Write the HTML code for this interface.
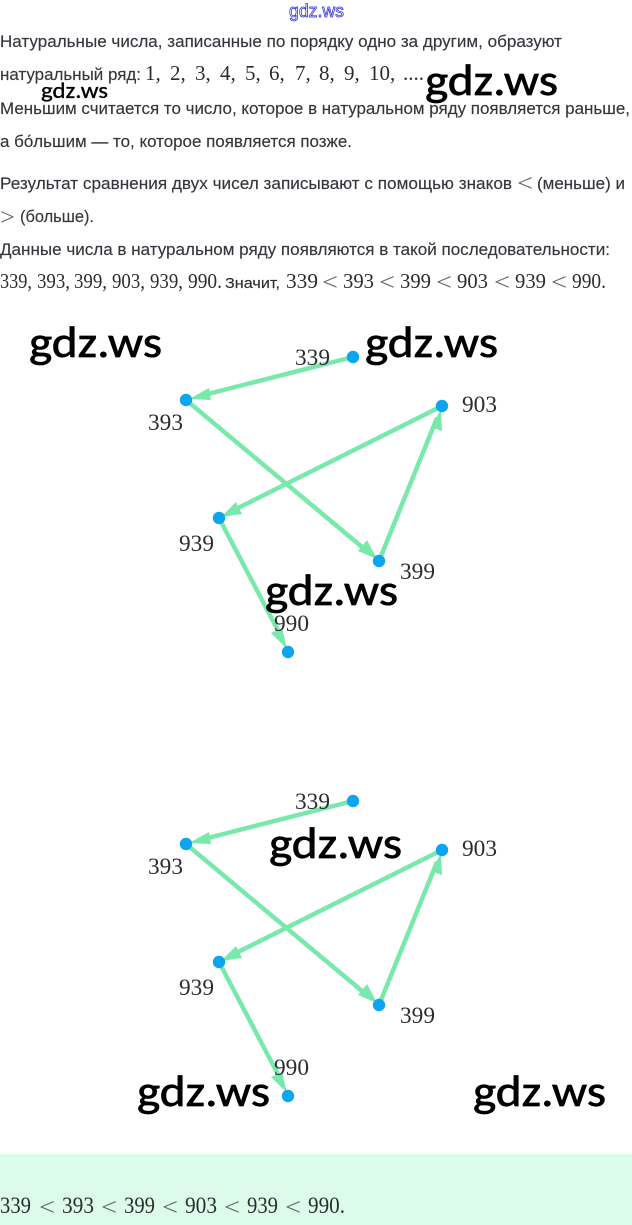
<!DOCTYPE html>
<html><head><meta charset="utf-8"><style>
html,body{margin:0;padding:0;background:#fff;width:632px;height:1225px;overflow:hidden}
svg{display:block}
.t{font-family:"Liberation Sans","Noto Sans CJK SC",sans-serif;font-size:16.5px;fill:#33373c;stroke:#33373c;stroke-width:.15}
.s{font-family:"Liberation Sans","Noto Sans CJK SC",sans-serif;font-size:15px;fill:#2c2f33;stroke:#2c2f33;stroke-width:.15}
.m{font-family:"Liberation Serif",serif;font-size:21px;fill:#2a2d30}
.n{font-family:"Liberation Serif",serif;font-size:23px;fill:#2a2d30}
.b{font-family:"Liberation Serif",serif;font-size:23px;fill:#2a2d30}
.l{font-family:"Liberation Serif",serif;font-size:24px;fill:#666}
.w{font-family:Carlito,"Liberation Sans",sans-serif;font-size:44px;fill:#000;stroke:#000;stroke-width:.7}
.w2{font-family:Carlito,"Liberation Sans",sans-serif;font-size:23px;fill:#000;stroke:#000;stroke-width:.35}
.g{stroke:#78e8ab;stroke-width:4.5;fill:none}
.h{fill:#78e8ab}
.d{fill:#0ea5f0}
</style></head><body>
<svg width="632" height="1225" viewBox="0 0 632 1225" xmlns="http://www.w3.org/2000/svg">
<rect width="632" height="1225" fill="#fff"/>
<rect y="1154" width="632" height="71" fill="#dcfce9"/>

<text x="289" y="17" font-family="Liberation Sans,sans-serif" font-size="18" fill="#fff" stroke="#2a2ad8" stroke-width="0.75" textLength="55" lengthAdjust="spacingAndGlyphs">gdz.ws</text>

<text class="t" x="0" y="47" textLength="562" lengthAdjust="spacingAndGlyphs">Натуральные числа, записанные по порядку одно за другим, образуют</text>
<text class="t" x="0" y="80" textLength="141" lengthAdjust="spacingAndGlyphs">натуральный ряд:</text>
<g class="m">
<text x="145" y="80">1,</text><text x="170" y="80">2,</text><text x="195" y="80">3,</text><text x="220" y="80">4,</text><text x="245" y="80">5,</text><text x="269" y="80">6,</text><text x="295" y="80">7,</text><text x="319" y="80">8,</text><text x="344" y="80">9,</text><text x="369" y="80">10,</text><text x="403" y="80">....</text>
</g>
<text class="t" x="0" y="114" textLength="630" lengthAdjust="spacingAndGlyphs">Меньшим считается то число, которое в натуральном ряду появляется раньше,</text>
<text class="t" x="0" y="147" textLength="352" lengthAdjust="spacingAndGlyphs">а бо́льшим — то, которое появляется позже.</text>
<text class="t" x="0" y="189" textLength="512" lengthAdjust="spacingAndGlyphs">Результат сравнения двух чисел записывают с помощью знаков</text>
<text class="l" x="517" y="191" textLength="16" lengthAdjust="spacingAndGlyphs">&lt;</text>
<text class="t" x="537" y="189" textLength="88" lengthAdjust="spacingAndGlyphs">(меньше) и</text>
<text class="l" x="0" y="225" textLength="15" lengthAdjust="spacingAndGlyphs">&gt;</text>
<text class="t" x="20" y="222" textLength="74" lengthAdjust="spacingAndGlyphs">(больше).</text>
<text class="t" x="0" y="255" textLength="610" lengthAdjust="spacingAndGlyphs">Данные числа в натуральном ряду появляются в такой последовательности:</text>

<g class="m">
<text x="0" y="288" textLength="32" lengthAdjust="spacingAndGlyphs">339,</text>
<text x="37" y="288" textLength="33" lengthAdjust="spacingAndGlyphs">393,</text>
<text x="74" y="288" textLength="33" lengthAdjust="spacingAndGlyphs">399,</text>
<text x="112" y="288" textLength="33" lengthAdjust="spacingAndGlyphs">903,</text>
<text x="150" y="288" textLength="33" lengthAdjust="spacingAndGlyphs">939,</text>
<text x="188" y="288" textLength="34" lengthAdjust="spacingAndGlyphs">990.</text>
</g>
<text class="s" x="225" y="288" textLength="55" lengthAdjust="spacingAndGlyphs">Значит,</text>
<g class="m">
<text x="286" y="288" textLength="32" lengthAdjust="spacingAndGlyphs">339</text>
<text x="343" y="288" textLength="31" lengthAdjust="spacingAndGlyphs">393</text>
<text x="400" y="288" textLength="31" lengthAdjust="spacingAndGlyphs">399</text>
<text x="457" y="288" textLength="31" lengthAdjust="spacingAndGlyphs">903</text>
<text x="515" y="288" textLength="31" lengthAdjust="spacingAndGlyphs">939</text>
<text x="572" y="288" textLength="34" lengthAdjust="spacingAndGlyphs">990.</text>
</g>
<g class="l">
<text x="322" y="290" textLength="16" lengthAdjust="spacingAndGlyphs">&lt;</text>
<text x="379" y="290" textLength="16" lengthAdjust="spacingAndGlyphs">&lt;</text>
<text x="436" y="290" textLength="16" lengthAdjust="spacingAndGlyphs">&lt;</text>
<text x="494" y="290" textLength="16" lengthAdjust="spacingAndGlyphs">&lt;</text>
<text x="551" y="290" textLength="16" lengthAdjust="spacingAndGlyphs">&lt;</text>
</g>

<g>
<line class="g" x1="353" y1="357" x2="200" y2="396"/>
<polygon class="h" points="189,399 209,388 211,400"/>
<line class="g" x1="186" y1="400" x2="368" y2="552"/>
<polygon class="h" points="377,559 358,551 367,540"/>
<line class="g" x1="379" y1="561" x2="437" y2="418"/>
<polygon class="h" points="441,409 442,431 431,427"/>
<line class="g" x1="442" y1="406" x2="232" y2="511"/>
<polygon class="h" points="221,517 236,502 242,514"/>
<line class="g" x1="219" y1="518" x2="282" y2="638"/>
<polygon class="h" points="287,649 271,633 282,628"/>
<circle class="d" cx="353" cy="357" r="6.2"/>
<circle class="d" cx="186" cy="400" r="6.2"/>
<circle class="d" cx="442" cy="406" r="6.2"/>
<circle class="d" cx="219" cy="518" r="6.2"/>
<circle class="d" cx="379" cy="561" r="6.2"/>
<circle class="d" cx="288" cy="652" r="6.2"/>
<text class="n" x="295" y="365" textLength="35" lengthAdjust="spacingAndGlyphs">339</text>
<text class="n" x="148" y="430" textLength="35" lengthAdjust="spacingAndGlyphs">393</text>
<text class="n" x="462" y="412" textLength="35" lengthAdjust="spacingAndGlyphs">903</text>
<text class="n" x="179" y="551" textLength="35" lengthAdjust="spacingAndGlyphs">939</text>
<text class="n" x="400" y="579" textLength="35" lengthAdjust="spacingAndGlyphs">399</text>
<text class="n" x="274" y="631" textLength="35" lengthAdjust="spacingAndGlyphs">990</text>
</g>

<g transform="translate(0,444)">
<line class="g" x1="353" y1="357" x2="200" y2="396"/>
<polygon class="h" points="189,399 209,388 211,400"/>
<line class="g" x1="186" y1="400" x2="368" y2="552"/>
<polygon class="h" points="377,559 358,551 367,540"/>
<line class="g" x1="379" y1="561" x2="437" y2="418"/>
<polygon class="h" points="441,409 442,431 431,427"/>
<line class="g" x1="442" y1="406" x2="232" y2="511"/>
<polygon class="h" points="221,517 236,502 242,514"/>
<line class="g" x1="219" y1="518" x2="282" y2="638"/>
<polygon class="h" points="287,649 271,633 282,628"/>
<circle class="d" cx="353" cy="357" r="6.2"/>
<circle class="d" cx="186" cy="400" r="6.2"/>
<circle class="d" cx="442" cy="406" r="6.2"/>
<circle class="d" cx="219" cy="518" r="6.2"/>
<circle class="d" cx="379" cy="561" r="6.2"/>
<circle class="d" cx="288" cy="652" r="6.2"/>
<text class="n" x="295" y="365" textLength="35" lengthAdjust="spacingAndGlyphs">339</text>
<text class="n" x="148" y="430" textLength="35" lengthAdjust="spacingAndGlyphs">393</text>
<text class="n" x="462" y="412" textLength="35" lengthAdjust="spacingAndGlyphs">903</text>
<text class="n" x="179" y="551" textLength="35" lengthAdjust="spacingAndGlyphs">939</text>
<text class="n" x="400" y="579" textLength="35" lengthAdjust="spacingAndGlyphs">399</text>
<text class="n" x="274" y="631" textLength="35" lengthAdjust="spacingAndGlyphs">990</text>
</g>

<g class="b">
<text x="0" y="1213" textLength="31" lengthAdjust="spacingAndGlyphs">339</text>
<text x="62" y="1213" textLength="32" lengthAdjust="spacingAndGlyphs">393</text>
<text x="124" y="1213" textLength="31" lengthAdjust="spacingAndGlyphs">399</text>
<text x="185" y="1213" textLength="32" lengthAdjust="spacingAndGlyphs">903</text>
<text x="247" y="1213" textLength="31" lengthAdjust="spacingAndGlyphs">939</text>
<text x="308" y="1213" textLength="37" lengthAdjust="spacingAndGlyphs">990.</text>
</g>
<g class="l">
<text x="39" y="1215" textLength="16" lengthAdjust="spacingAndGlyphs">&lt;</text>
<text x="101" y="1215" textLength="16" lengthAdjust="spacingAndGlyphs">&lt;</text>
<text x="162" y="1215" textLength="16" lengthAdjust="spacingAndGlyphs">&lt;</text>
<text x="224" y="1215" textLength="16" lengthAdjust="spacingAndGlyphs">&lt;</text>
<text x="285" y="1215" textLength="16" lengthAdjust="spacingAndGlyphs">&lt;</text>
</g>

<text class="w" x="425" y="95" textLength="133" lengthAdjust="spacingAndGlyphs">gdz.ws</text>
<text class="w2" x="41" y="98" textLength="67" lengthAdjust="spacingAndGlyphs">gdz.ws</text>
<text class="w" x="29" y="357" textLength="133" lengthAdjust="spacingAndGlyphs">gdz.ws</text>
<text class="w" x="365" y="357" textLength="133" lengthAdjust="spacingAndGlyphs">gdz.ws</text>
<text class="w" x="265" y="605" textLength="133" lengthAdjust="spacingAndGlyphs">gdz.ws</text>
<text class="w" x="269" y="858" textLength="133" lengthAdjust="spacingAndGlyphs">gdz.ws</text>
<text class="w" x="137" y="1106" textLength="133" lengthAdjust="spacingAndGlyphs">gdz.ws</text>
<text class="w" x="473" y="1106" textLength="133" lengthAdjust="spacingAndGlyphs">gdz.ws</text>
</svg>
</body></html>
